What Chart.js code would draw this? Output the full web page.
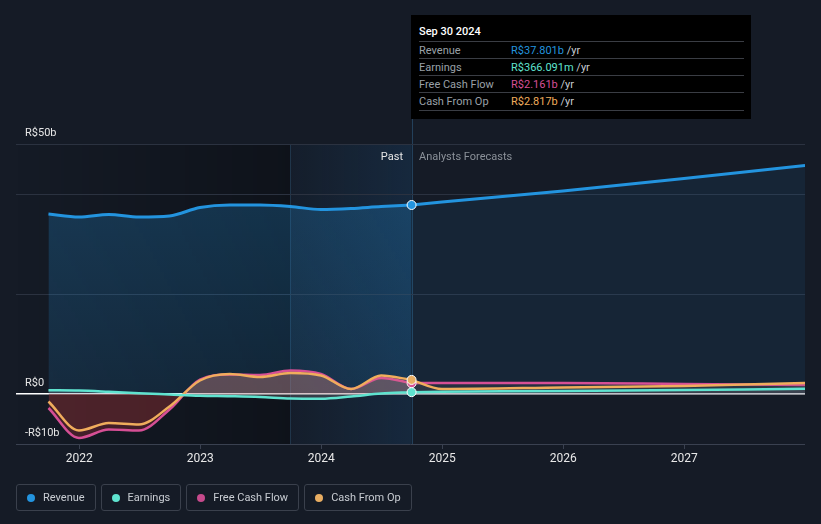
<!DOCTYPE html>
<html>
<head>
<meta charset="utf-8">
<script src="https://cdn.jsdelivr.net/npm/chart.js@4.4.1/dist/chart.umd.min.js"></script>
<style>
  body { margin: 0; background: #151b26; font-family: Roboto, "Noto Sans", sans-serif; }
  #wrap { position: relative; width: 821px; height: 524px; overflow: hidden; }
  #myChart { position: absolute; left: 0; top: 0; }
  .tip { position: absolute; left: 411px; top: 15px; width: 340px; height: 104px; background: #000; font-size: 11px; }
  .tip .ttl { position: absolute; left: 8px; top: 10px; color: #fff; font-weight: 500; }
  .tip .row { position: absolute; left: 8px; width: 325px; height: 17px; border-top: 1px solid #3a3d44; color: #9aa0a8; }
  .tip .row span.l { position: absolute; left: 0; top: 2px; }
  .tip .row span.v { position: absolute; left: 92px; top: 2px; }
  .tip .row span.u { color: #c8ccd2; }
  .tip .last { position: absolute; left: 8px; top: 95px; width: 325px; border-top: 1px solid #3a3d44; }
  .lbl { position: absolute; font-size: 11px; top: 150px; }
  .legend { position: absolute; top: 484px; left: 16px; display: flex; gap: 5px; }
  .legend div { height: 27px; box-sizing: border-box; border: 1px solid #3a404c; border-radius: 3px; padding: 0 10px 0 10px; display: flex; align-items: center; color: #c8ccd2; font-size: 11px; }
  .legend i { display: inline-block; width: 8px; height: 8px; border-radius: 50%; margin-right: 8px; }
</style>
</head>
<body>
<div id="wrap">
  <canvas id="myChart" width="821" height="524"></canvas>
  <div class="lbl" style="right:418px;color:#e6e6e6;">Past</div>
  <div class="lbl" style="left:419px;color:#8b9199;">Analysts Forecasts</div>
  <div class="tip">
    <div class="ttl">Sep 30 2024</div>
    <div class="row" style="top:26px"><span class="l">Revenue</span><span class="v"><b style="font-weight:400;color:#2394df">R$37.801b</b> <span class="u">/yr</span></span></div>
    <div class="row" style="top:43px"><span class="l">Earnings</span><span class="v"><b style="font-weight:400;color:#5fe3cf">R$366.091m</b> <span class="u">/yr</span></span></div>
    <div class="row" style="top:60px"><span class="l">Free Cash Flow</span><span class="v"><b style="font-weight:400;color:#d64f95">R$2.161b</b> <span class="u">/yr</span></span></div>
    <div class="row" style="top:77px"><span class="l">Cash From Op</span><span class="v"><b style="font-weight:400;color:#f0ad5c">R$2.817b</b> <span class="u">/yr</span></span></div>
    <div class="last"></div>
  </div>
  <div class="legend">
    <div><i style="background:#2394df"></i>Revenue</div>
    <div><i style="background:#5fe3cf"></i>Earnings</div>
    <div><i style="background:#c64a8c"></i>Free Cash Flow</div>
    <div><i style="background:#e8ad62"></i>Cash From Op</div>
  </div>
</div>
<script>
// past (quarterly, trailing twelve months) - R$ billions
const pastDates = ['2021-09-30', '2021-12-31', '2022-03-31', '2022-06-30', '2022-09-30', '2022-12-31', '2023-03-31',
    '2023-06-30', '2023-09-30', '2023-12-31', '2024-03-31', '2024-06-30', '2024-09-30'];
const revenue = [36.0, 35.4, 35.9, 35.4, 35.6, 37.3, 37.8, 37.8, 37.5, 36.9, 37.1, 37.5, 37.801];
const earnings = [0.75, 0.7, 0.45, 0.15, -0.1, -0.35, -0.45, -0.6, -0.9, -0.95, -0.5, 0.1, 0.366];
const freeCashFlow = [-2.8, -8.8, -7.1, -7.3, -3.1, 2.9, 3.9, 3.8, 4.7, 4.0, 1.0, 3.2, 2.161];
const cashFromOp = [-1.5, -7.3, -5.8, -6.1, -2.5, 2.7, 4.0, 3.4, 4.2, 3.7, 1.0, 3.7, 2.817];

// analysts forecasts
const foreDates = ['2024-09-30', '2024-12-31', '2025-12-31', '2026-12-31', '2027-12-31'];
const revenueFc = [37.801, 38.4, 40.6, 43.1, 45.7];
const earningsFc = [0.366, 0.45, 0.6, 0.8, 1.05];
const freeCashFlowFc = [2.161, 2.2, 2.2, 2.0, 1.8];
const cashFromOpFc = [2.817, 1.0, 1.3, 1.6, 2.2];

const yearTicks = [2022, 2023, 2024, 2025, 2026, 2027];
const yTicks = [-10, 0, 20, 40, 50];
const yLabels = { '50': 'R$50b', '0': 'R$0', '-10': '-R$10b' };

const xMin = 2021.477;
const xMax = 2027.997;
const bandStart = '2023-09-30';
const nowDate = '2024-09-30';

function toYear(s) {
    const d = new Date(s + 'T00:00:00Z');
    const y = d.getUTCFullYear();
    const start = Date.UTC(y, 0, 1);
    const end = Date.UTC(y + 1, 0, 1);
    return y + (d.getTime() - start) / (end - start);
}

function pts(dates, vals) {
    return dates.map((d, i) => ({ x: toYear(d), y: vals[i] }));
}

const lastIdx = pastDates.length - 1;
function marker(ctx) {
    return ctx.dataIndex === lastIdx ? 4.5 : 0;
}

function revGradient(context) {
    const chart = context.chart;
    const area = chart.chartArea;
    if (!area) return 'rgba(35,148,223,0.2)';
    const y = chart.scales.y;
    const g = chart.ctx.createLinearGradient(0, y.getPixelForValue(40), 0, y.getPixelForValue(0));
    g.addColorStop(0, 'rgba(35,148,223,0.25)');
    g.addColorStop(1, 'rgba(35,148,223,0.14)');
    return g;
}

const backdrop = {
    id: 'backdrop',
    beforeDraw(chart) {
        const { ctx, chartArea: a, scales: { x } } = chart;
        const xb = x.getPixelForValue(toYear(bandStart));
        const xn = x.getPixelForValue(toYear(nowDate));
        ctx.save();
        let g = ctx.createLinearGradient(a.left, 0, xb, 0);
        g.addColorStop(0, 'rgba(0,0,0,0)');
        g.addColorStop(1, 'rgba(0,0,0,0.3)');
        ctx.fillStyle = g;
        ctx.fillRect(a.left, a.top, xb - a.left, a.bottom - a.top);
        g = ctx.createLinearGradient(xb, 0, xn, 0);
        g.addColorStop(0, 'rgba(30,110,180,0.04)');
        g.addColorStop(1, 'rgba(30,110,180,0.17)');
        ctx.fillStyle = g;
        ctx.fillRect(xb, a.top, xn - xb, a.bottom - a.top);
        ctx.strokeStyle = 'rgba(60,110,150,0.35)';
        ctx.lineWidth = 1;
        ctx.beginPath();
        ctx.moveTo(Math.round(xb) + 0.5, a.top);
        ctx.lineTo(Math.round(xb) + 0.5, a.bottom);
        ctx.stroke();
        ctx.strokeStyle = '#23405a';
        ctx.beginPath();
        ctx.moveTo(Math.round(xn) + 0.5, 119);
        ctx.lineTo(Math.round(xn) + 0.5, a.bottom);
        ctx.stroke();
        ctx.restore();
    }
};

document.addEventListener('DOMContentLoaded', function () {
    var ctx = document.getElementById('myChart').getContext('2d');
    new Chart(ctx, {
        type: 'line',
        data: {
            datasets: [
                {
                    label: 'Earnings', data: pts(pastDates, earnings), order: 1,
                    borderColor: '#5fe3cf', borderWidth: 2.5, cubicInterpolationMode: 'monotone',
                    fill: { target: 'origin', above: 'rgba(150,150,150,0.25)', below: 'rgba(150,150,150,0.25)' },
                    pointRadius: marker, pointBackgroundColor: '#5fe3cf', pointBorderColor: '#fff', pointBorderWidth: 1
                },
                {
                    label: 'Cash From Op', data: pts(pastDates, cashFromOp), order: 2,
                    borderColor: '#f0ad5c', borderWidth: 2.5, cubicInterpolationMode: 'monotone',
                    fill: { target: 'origin', above: 'rgba(220,160,120,0.12)', below: 'rgba(130,60,50,0.15)' },
                    pointRadius: marker, pointBackgroundColor: '#e8ad62', pointBorderColor: '#fff', pointBorderWidth: 1
                },
                {
                    label: 'Free Cash Flow', data: pts(pastDates, freeCashFlow), order: 3,
                    borderColor: '#d64f95', borderWidth: 2.5, cubicInterpolationMode: 'monotone',
                    fill: { target: 'origin', above: 'rgba(190,120,130,0.32)', below: 'rgba(140,40,50,0.4)' },
                    pointRadius: marker, pointBackgroundColor: '#d64f95', pointBorderColor: '#fff', pointBorderWidth: 1
                },
                {
                    label: 'Revenue', data: pts(pastDates, revenue), order: 4,
                    borderColor: '#2394df', borderWidth: 3, cubicInterpolationMode: 'monotone',
                    fill: 'origin', backgroundColor: revGradient,
                    pointRadius: marker, pointBackgroundColor: '#2394df', pointBorderColor: '#fff', pointBorderWidth: 1
                },
                {
                    label: 'Earnings Fc', data: pts(foreDates, earningsFc), order: 5,
                    borderColor: '#5fe3cf', borderWidth: 2.5, tension: 0.3,
                    fill: 'origin', backgroundColor: 'rgba(120,120,130,0.18)', pointRadius: 0
                },
                {
                    label: 'Cash From Op Fc', data: pts(foreDates, cashFromOpFc), order: 6,
                    borderColor: '#f0ad5c', borderWidth: 2.5, cubicInterpolationMode: 'monotone',
                    fill: 'origin', backgroundColor: 'rgba(120,110,110,0.12)', pointRadius: 0
                },
                {
                    label: 'Free Cash Flow Fc', data: pts(foreDates, freeCashFlowFc), order: 7,
                    borderColor: '#d64f95', borderWidth: 2.5, cubicInterpolationMode: 'monotone',
                    fill: 'origin', backgroundColor: 'rgba(120,110,120,0.15)', pointRadius: 0
                },
                {
                    label: 'Revenue Fc', data: pts(foreDates, revenueFc), order: 8,
                    borderColor: '#2394df', borderWidth: 3, tension: 0,
                    fill: 'origin', backgroundColor: 'rgba(35,148,223,0.09)', pointRadius: 0
                }
            ]
        },
        options: {
            responsive: false,
            animation: false,
            events: [],
            layout: { padding: { left: 16, right: 16, top: 144, bottom: 0 } },
            plugins: { legend: { display: false }, tooltip: { enabled: false } },
            scales: {
                x: {
                    type: 'linear', min: xMin, max: xMax,
                    afterBuildTicks: s => { s.ticks = yearTicks.map(v => ({ value: v })); },
                    afterFit: s => { s.height = 80; },
                    grid: { drawOnChartArea: false, tickLength: 5, color: '#3a4150' },
                    border: { display: false },
                    ticks: { color: '#e8e8e8', font: { family: 'Roboto', size: 12 }, padding: 3, callback: v => String(v) }
                },
                y: {
                    min: -10, max: 50,
                    afterBuildTicks: s => { s.ticks = yTicks.map(v => ({ value: v })); },
                    afterFit: s => { s.width = 0; },
                    grid: {
                        drawTicks: false,
                        color: c => c.tick && c.tick.value === 0 ? '#ffffff' : (c.tick && c.tick.value === -10 ? '#3a4150' : '#2b3240'),
                        lineWidth: c => c.tick && c.tick.value === 0 ? 1.5 : 1
                    },
                    border: { display: false },
                    ticks: {
                        mirror: true, padding: 9, labelOffset: -11,
                        color: '#e6e6e6', font: { family: 'Roboto', size: 11 },
                        callback: v => yLabels[String(v)] || ''
                    }
                }
            }
        },
        plugins: [backdrop]
    });
});
</script>
</body>
</html>
